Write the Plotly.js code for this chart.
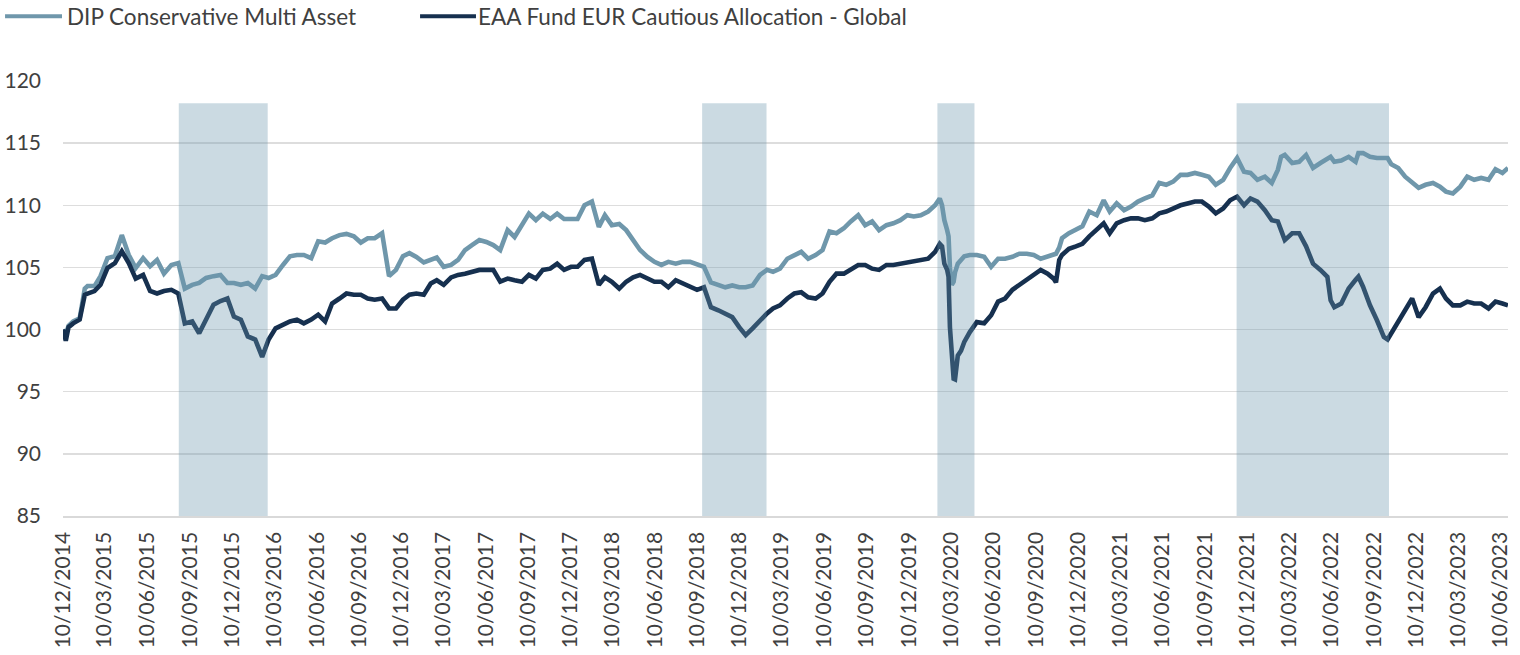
<!DOCTYPE html>
<html>
<head>
<meta charset="utf-8">
<script src="https://cdn.plot.ly/plotly-3.0.1.min.js"></script>
<style>
  html, body { margin: 0; padding: 0; background: #ffffff; }
  #chart { width: 1520px; height: 655px; }
</style>
</head>
<body>
<div id="chart"></div>
<script>
// ---------- DATA ----------
const seriesNames = ["DIP Conservative Multi Asset", "EAA Fund EUR Cautious Allocation - Global"];

const dates = [
"2014-12-10","2014-12-16","2014-12-22","2015-01-01","2015-01-15","2015-01-26","2015-02-01","2015-02-16",
"2015-03-01","2015-03-16","2015-04-01","2015-04-16","2015-05-01","2015-05-16","2015-06-01","2015-06-16",
"2015-07-01","2015-07-16","2015-08-01","2015-08-16","2015-08-30","2015-09-15","2015-09-30","2015-10-15",
"2015-10-31","2015-11-15","2015-11-30","2015-12-14","2015-12-29","2016-01-13","2016-01-29","2016-02-13",
"2016-02-27","2016-03-13","2016-03-29","2016-04-13","2016-04-28","2016-05-13","2016-05-29","2016-06-13",
"2016-06-28","2016-07-13","2016-07-29","2016-08-13","2016-08-29","2016-09-13","2016-09-28","2016-10-13",
"2016-10-29","2016-11-13","2016-11-28","2016-12-13","2016-12-27","2017-01-11","2017-01-27","2017-02-11",
"2017-02-24","2017-03-11","2017-03-27","2017-04-11","2017-04-26","2017-05-11","2017-05-27","2017-06-11",
"2017-06-26","2017-07-11","2017-07-27","2017-08-11","2017-08-27","2017-09-11","2017-09-26","2017-10-11",
"2017-10-27","2017-11-11","2017-11-26","2017-12-11","2017-12-25","2018-01-09","2018-01-25","2018-02-09",
"2018-02-22","2018-03-09","2018-03-25","2018-04-09","2018-04-24","2018-05-09","2018-05-25","2018-06-09",
"2018-06-24","2018-07-09","2018-07-25","2018-08-09","2018-08-25","2018-09-09","2018-09-24","2018-10-09",
"2018-10-25","2018-11-09","2018-11-24","2018-12-09","2018-12-23","2019-01-07","2019-01-23","2019-02-07",
"2019-02-20","2019-03-07","2019-03-23","2019-04-07","2019-04-22","2019-05-07","2019-05-23","2019-06-07",
"2019-06-22","2019-07-07","2019-07-23","2019-08-07","2019-08-23","2019-09-07","2019-09-22","2019-10-07",
"2019-10-23","2019-11-07","2019-11-22","2019-12-07","2019-12-21","2020-01-05","2020-01-21","2020-02-05",
"2020-02-15","2020-02-20","2020-02-25","2020-03-02","2020-03-05","2020-03-08","2020-03-12","2020-03-16",
"2020-03-19","2020-03-25","2020-04-01","2020-04-08","2020-04-20","2020-05-05","2020-05-21","2020-06-05",
"2020-06-20","2020-07-05","2020-07-21","2020-08-05","2020-08-21","2020-09-05","2020-09-20","2020-10-05",
"2020-10-18","2020-10-23","2020-10-30","2020-11-05","2020-11-20","2020-12-05","2020-12-19","2021-01-03",
"2021-01-19","2021-02-03","2021-02-16","2021-03-03","2021-03-19","2021-04-03","2021-04-18","2021-05-03",
"2021-05-19","2021-06-03","2021-06-18","2021-07-03","2021-07-19","2021-08-03","2021-08-19","2021-09-03",
"2021-09-18","2021-10-03","2021-10-19","2021-11-03","2021-11-18","2021-12-03","2021-12-17","2022-01-01",
"2022-01-17","2022-02-01","2022-02-14","2022-02-21","2022-03-01","2022-03-17","2022-04-01","2022-04-16",
"2022-05-01","2022-05-17","2022-06-01","2022-06-08","2022-06-16","2022-07-01","2022-07-17","2022-08-01",
"2022-08-07","2022-08-17","2022-09-01","2022-09-16","2022-10-01","2022-10-09","2022-10-17","2022-11-01",
"2022-11-16","2022-12-01","2022-12-15","2022-12-30","2023-01-15","2023-01-30","2023-02-12","2023-02-27",
"2023-03-15","2023-03-30","2023-04-14","2023-04-29","2023-05-15","2023-05-30","2023-06-14","2023-06-26"
];

const dipValues = [
100.0,99.6,100.3,100.65,100.9,103.3,103.5,103.5,
104.3,105.75,105.9,107.6,106.0,104.95,105.75,105.1,
105.6,104.5,105.2,105.35,103.3,103.6,103.75,104.15,
104.3,104.4,103.75,103.75,103.6,103.75,103.3,104.3,
104.15,104.4,105.2,105.9,106.0,106.0,105.75,107.1,
107.0,107.35,107.6,107.7,107.5,107.0,107.35,107.35,
107.75,104.3,104.8,105.9,106.15,105.85,105.4,105.6,
105.8,105.05,105.2,105.6,106.4,106.8,107.2,107.05,
106.8,106.4,108.0,107.45,108.5,109.33,108.8,109.33,
108.9,109.33,108.9,108.9,108.9,110.0,110.3,108.26,
109.2,108.4,108.5,108.0,107.2,106.4,105.85,105.45,
105.2,105.45,105.3,105.45,105.45,105.2,105.05,103.8,
103.55,103.4,103.55,103.4,103.4,103.55,104.4,104.8,
104.65,104.9,105.7,106.0,106.25,105.7,106.0,106.4,
107.9,107.75,108.15,108.7,109.2,108.4,108.7,108.0,
108.4,108.55,108.8,109.2,109.1,109.2,109.5,110.0,
110.55,110.0,108.8,108.0,107.5,105.0,103.6,103.85,
104.6,105.3,105.6,105.9,106.0,106.0,105.86,105.05,
105.7,105.7,105.86,106.1,106.1,106.0,105.7,105.86,
106.0,106.1,106.6,107.35,107.75,108.0,108.3,109.5,
109.2,110.4,109.5,110.15,109.6,109.9,110.3,110.55,
110.8,111.8,111.65,111.9,112.45,112.45,112.6,112.45,
112.3,111.65,112.05,113.0,113.8,112.7,112.6,112.05,
112.3,111.8,112.85,113.9,114.05,113.4,113.5,114.05,
113.0,113.4,113.8,113.9,113.5,113.6,113.9,113.5,
114.2,114.2,113.9,113.8,113.8,113.8,113.3,113.0,
112.3,111.8,111.4,111.65,111.8,111.5,111.1,110.95,
111.5,112.3,112.05,112.2,112.05,112.9,112.6,113.0
];

const eaaValues = [
100.0,99.1,100.2,100.5,100.8,102.8,102.9,103.1,
103.6,104.95,105.35,106.3,105.35,104.1,104.4,103.1,
102.9,103.1,103.2,102.9,100.5,100.65,99.7,100.8,
102.0,102.3,102.5,101.05,100.8,99.45,99.2,97.8,
99.2,100.1,100.4,100.65,100.8,100.5,100.8,101.2,
100.65,102.1,102.5,102.9,102.8,102.8,102.5,102.4,
102.5,101.7,101.7,102.4,102.8,102.9,102.8,103.7,
103.97,103.6,104.2,104.4,104.5,104.6,104.8,104.8,
104.8,103.85,104.1,103.97,103.85,104.4,104.1,104.8,
104.9,105.3,104.8,105.05,105.05,105.6,105.7,103.6,
104.2,103.85,103.3,103.85,104.2,104.4,104.1,103.85,
103.85,103.4,103.97,103.7,103.4,103.2,103.4,101.8,
101.55,101.3,101.0,100.2,99.55,100.1,100.75,101.3,
101.7,101.95,102.5,102.9,103.0,102.6,102.5,102.9,
103.85,104.5,104.5,104.8,105.2,105.2,104.9,104.8,
105.2,105.2,105.3,105.45,105.45,105.6,105.7,106.25,
106.9,106.7,105.3,104.8,104.25,100.2,97.3,96.05,
96.0,97.9,98.3,99.0,99.8,100.6,100.5,101.15,
102.25,102.5,103.2,103.6,104.1,104.5,104.8,104.5,
104.1,103.8,105.6,106.0,106.5,106.7,106.9,107.5,
108.0,108.55,107.75,108.55,108.8,108.95,108.95,108.8,
108.95,109.35,109.5,109.75,110.0,110.15,110.3,110.3,
109.9,109.35,109.75,110.4,110.7,110.0,110.55,110.3,
109.6,108.8,108.7,108.0,107.2,107.75,107.75,106.7,
105.3,104.8,104.25,102.35,101.8,102.1,103.3,104.0,
104.25,103.45,101.95,100.75,99.4,99.2,99.7,100.5,
101.55,102.5,101.0,101.8,102.9,103.3,102.5,101.95,
101.95,102.25,102.1,102.1,101.7,102.25,102.1,101.95
];

const tickDates = [
"2014-12-10","2015-03-10","2015-06-10","2015-09-10","2015-12-10","2016-03-10","2016-06-10","2016-09-10",
"2016-12-10","2017-03-10","2017-06-10","2017-09-10","2017-12-10","2018-03-10","2018-06-10","2018-09-10",
"2018-12-10","2019-03-10","2019-06-10","2019-09-10","2019-12-10","2020-03-10","2020-06-10","2020-09-10",
"2020-12-10","2021-03-10","2021-06-10","2021-09-10","2021-12-10","2022-03-10","2022-06-10","2022-09-10",
"2022-12-10","2023-03-10","2023-06-10"
];
const tickLabels = [
"10/12/2014","10/03/2015","10/06/2015","10/09/2015","10/12/2015","10/03/2016","10/06/2016","10/09/2016",
"10/12/2016","10/03/2017","10/06/2017","10/09/2017","10/12/2017","10/03/2018","10/06/2018","10/09/2018",
"10/12/2018","10/03/2019","10/06/2019","10/09/2019","10/12/2019","10/03/2020","10/06/2020","10/09/2020",
"10/12/2020","10/03/2021","10/06/2021","10/09/2021","10/12/2021","10/03/2022","10/06/2022","10/09/2022",
"10/12/2022","10/03/2023","10/06/2023"
];

const yTicks = [85, 90, 95, 100, 105, 110, 115, 120];

const shadeStarts = ["2015-08-17", "2018-09-20", "2020-02-10", "2021-11-17"];
const shadeEnds   = ["2016-02-25", "2019-02-06", "2020-04-30", "2022-10-12"];
const shadeTop = 118.2;

// ---------- STYLE ----------
const FONT = "Lato, 'Open Sans', sans-serif";
const TEXT = "#404040";
const colDIP = "#6F97AB";
const colEAA = "#16304F";

const traces = [
  { x: dates, y: dipValues, name: seriesNames[0], type: "scatter", mode: "lines",
    line: { color: colDIP, width: 4.6 }, showlegend: false, hoverinfo: "skip" },
  { x: dates, y: eaaValues, name: seriesNames[1], type: "scatter", mode: "lines",
    line: { color: colEAA, width: 4.6 }, showlegend: false, hoverinfo: "skip" }
];

const shapes = [];
for (let i = 0; i < shadeStarts.length; i++) {
  shapes.push({ type: "rect", xref: "x", yref: "y", x0: shadeStarts[i], x1: shadeEnds[i],
    y0: 85, y1: shadeTop, fillcolor: "rgb(107,148,171)", opacity: 0.35,
    line: { width: 0 }, layer: "above" });
}
// custom legend line samples (paper coords)
shapes.push({ type: "line", xref: "paper", yref: "paper", x0: -0.0401, x1: -0.0007, y0: 1.149, y1: 1.149,
  line: { color: colDIP, width: 4 } });
shapes.push({ type: "line", xref: "paper", yref: "paper", x0: 0.2471, x1: 0.2858, y0: 1.149, y1: 1.149,
  line: { color: colEAA, width: 4 } });

const annotations = [
  { xref: "paper", yref: "paper", x: 0.0012, y: 1.149, xanchor: "left", yanchor: "middle",
    text: seriesNames[0], showarrow: false, font: { family: FONT, size: 22.5, color: TEXT } },
  { xref: "paper", yref: "paper", x: 0.2856, y: 1.149, xanchor: "left", yanchor: "middle",
    text: seriesNames[1], showarrow: false, font: { family: FONT, size: 22.5, color: TEXT } }
];

const layout = {
  width: 1520, height: 655,
  margin: { l: 63, r: 12, t: 81, b: 139, pad: 0 },
  paper_bgcolor: "#ffffff", plot_bgcolor: "#ffffff",
  font: { family: FONT, color: TEXT, size: 21 },
  showlegend: false,
  xaxis: {
    type: "date",
    range: ["2014-12-10", "2023-06-26"],
    tickmode: "array", tickvals: tickDates, ticktext: tickLabels,
    tickangle: -90, ticks: "", showgrid: false, zeroline: false,
    showline: true, linecolor: "#D9D9D9", linewidth: 1.5,
    tickfont: { family: FONT, size: 21, color: TEXT },
    ticklabelstandoff: 6
  },
  yaxis: {
    range: [85, 120], tickmode: "array", tickvals: yTicks,
    ticks: "", showgrid: true, gridcolor: "#DDDDDD", gridwidth: 1.5,
    zeroline: false, showline: false,
    tickfont: { family: FONT, size: 21, color: TEXT },
    ticklabelstandoff: 21
  },
  shapes: shapes,
  annotations: annotations
};

Plotly.newPlot("chart", traces, layout, { displayModeBar: false, staticPlot: true });
</script>
</body>
</html>
